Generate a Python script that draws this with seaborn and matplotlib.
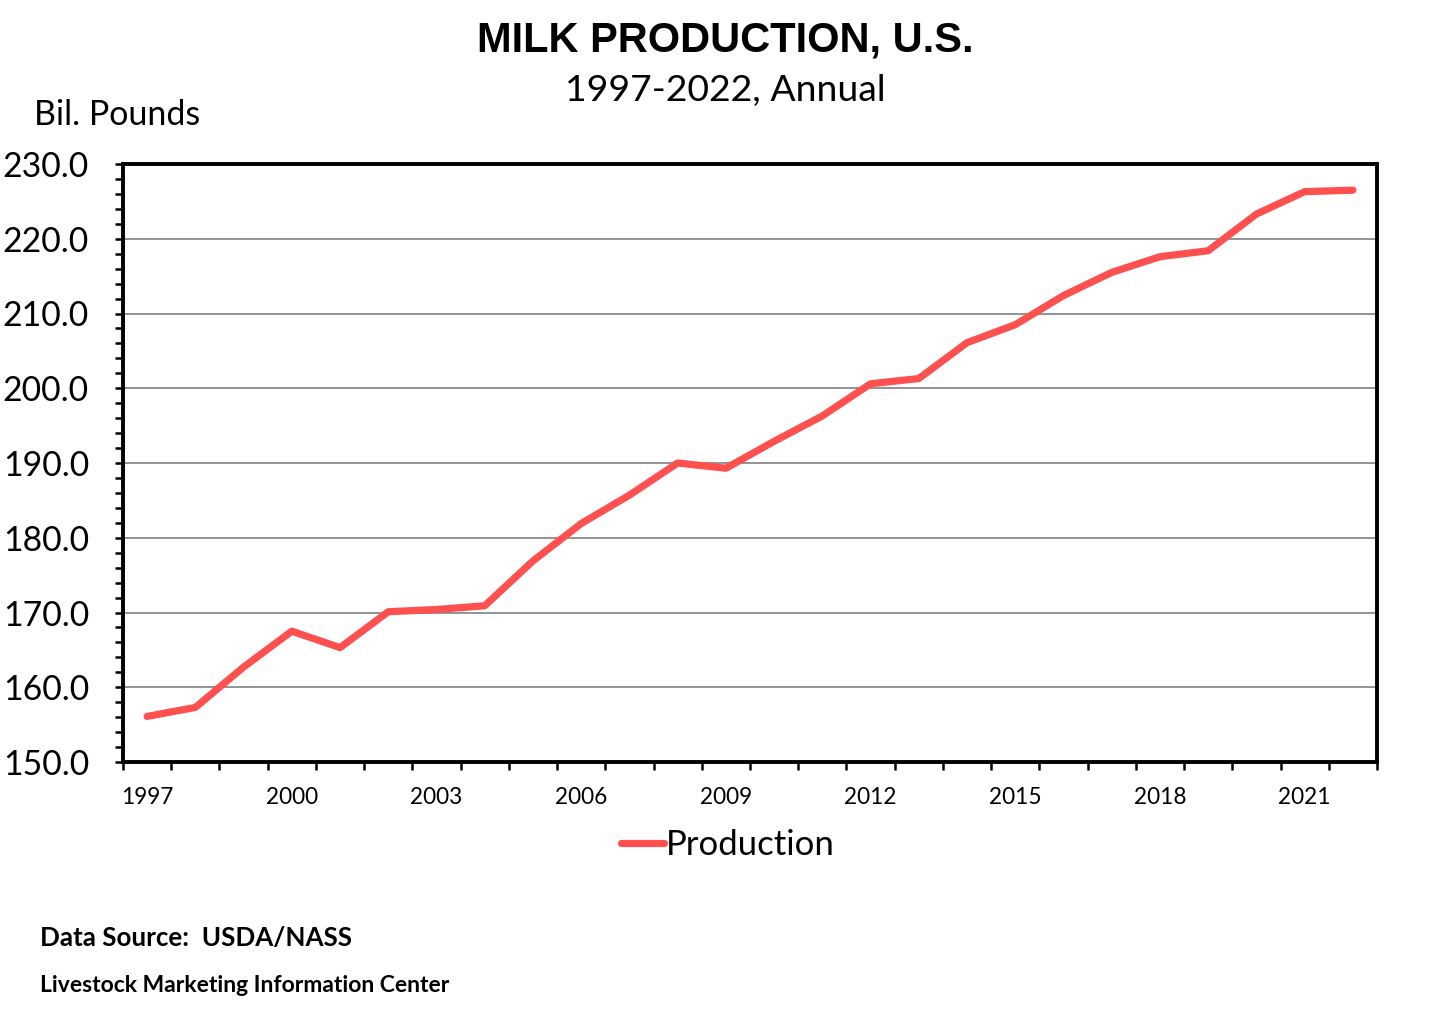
import numpy as np
import pandas as pd
import matplotlib
matplotlib.use('Agg')
import matplotlib.pyplot as plt
import seaborn as sns
from matplotlib.ticker import FixedLocator, MultipleLocator, FormatStrFormatter

# Annual U.S. milk production, billion pounds
years = list(range(1997, 2023))
production = [156.1, 157.3, 162.7, 167.5, 165.3, 170.1, 170.4, 170.9, 176.9, 181.9,
              185.7, 190.0, 189.3, 192.9, 196.3, 200.6, 201.3, 206.1, 208.5, 212.4,
              215.5, 217.6, 218.4, 223.3, 226.3, 226.5]
label_years = years[::3]

df = pd.DataFrame({'Year': years, 'Production': production})

sns.set_theme(style='white')
plt.rcParams['font.family'] = ['Lato', 'DejaVu Sans']
plt.rcParams['text.color'] = 'black'
plt.rcParams['xtick.color'] = 'black'
plt.rcParams['ytick.color'] = 'black'
plt.rcParams['xtick.labelcolor'] = 'black'
plt.rcParams['ytick.labelcolor'] = 'black'

fig = plt.figure(figsize=(14.5, 10.15), dpi=100)
ax = fig.add_axes([123 / 1450, 1 - 762 / 1015, (1377 - 123) / 1450, (762 - 164) / 1015])

sns.lineplot(data=df, x='Year', y='Production', ax=ax, color='#FF5050',
             linewidth=5.2, solid_capstyle='round', solid_joinstyle='round',
             label='Production', legend=False)

# y axis
ax.set_ylim(150, 230)
ax.yaxis.set_major_locator(MultipleLocator(10))
ax.yaxis.set_minor_locator(MultipleLocator(2))
ax.yaxis.set_major_formatter(FormatStrFormatter('%.1f'))
ax.grid(axis='y', which='major', color='#808080', linewidth=1.2)
ax.set_axisbelow(True)

# x axis: ticks between years, labels every third year
ax.set_xlim(1996.5, 2022.5)
ax.xaxis.set_major_locator(FixedLocator(np.arange(1996.5, 2023, 1)))
ax.xaxis.set_minor_locator(FixedLocator(label_years))
ax.set_xticklabels([], minor=False)
ax.set_xticklabels([str(y) for y in label_years], minor=True)

ax.tick_params(axis='x', which='major', direction='out', length=6, width=1.8,
               color='black', bottom=True)
ax.tick_params(axis='x', which='minor', length=0, pad=18, labelsize=16.3, bottom=True)
ax.tick_params(axis='y', which='both', direction='out', width=1.8, color='black', left=True)
ax.tick_params(axis='y', which='major', length=6, labelsize=24.3, pad=18.5)
ax.tick_params(axis='y', which='minor', length=6)

for s in ax.spines.values():
    s.set_visible(True)
    s.set_color('black')
    s.set_linewidth(2.8)

ax.set_xlabel('')
ax.set_ylabel('')

# titles and notes
fig.text(725 / 1450, 1 - 40 / 1015, 'MILK PRODUCTION, U.S.', ha='center', va='center',
         fontsize=30, fontweight='bold', family=['Liberation Sans', 'DejaVu Sans'])
fig.text(725 / 1450, 1 - 91 / 1015, '1997-2022, Annual', ha='center', va='center',
         fontsize=26.9)
fig.text(34 / 1450, 1 - 115 / 1015, 'Bil. Pounds', ha='left', va='center', fontsize=24.5)

handles, labels = ax.get_legend_handles_labels()
fig.legend(handles, labels, loc='center', bbox_to_anchor=(728 / 1450, 1 - 845 / 1015),
           frameon=False, fontsize=25, handlelength=1.25, handletextpad=0.05)

fig.text(40 / 1450, 1 - 938 / 1015, 'Data Source:  USDA/NASS', ha='left', va='center',
         fontsize=18.7, fontweight='bold')
fig.text(40 / 1450, 1 - 985 / 1015, 'Livestock Marketing Information Center', ha='left',
         va='center', fontsize=16.5, fontweight='bold')

fig.savefig('out.png', dpi=100, facecolor='white')
